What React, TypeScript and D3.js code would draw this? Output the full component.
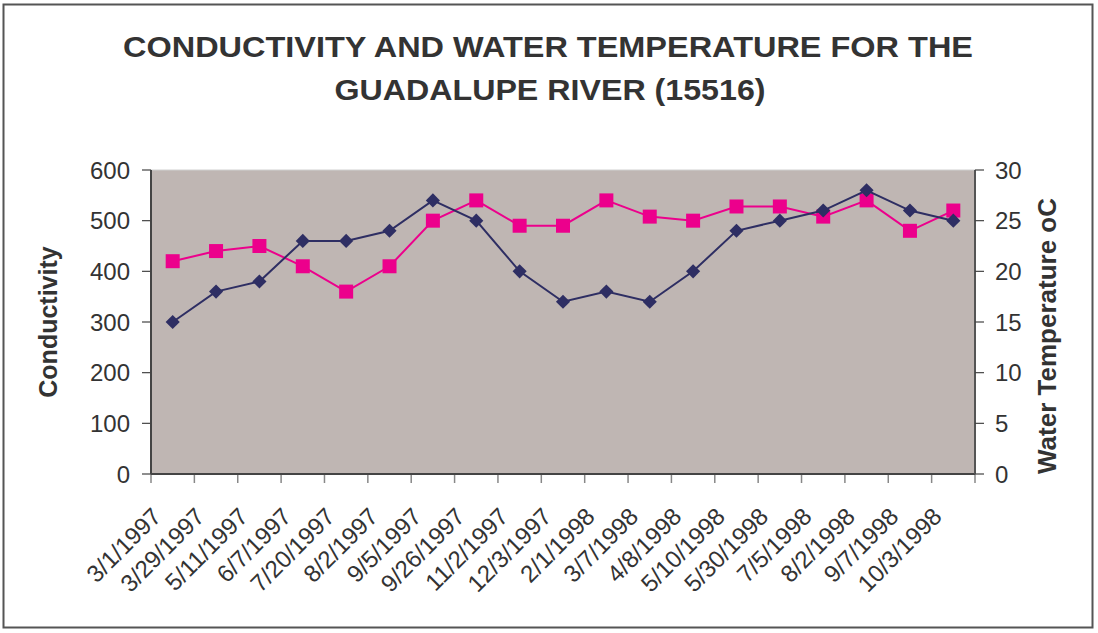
import { useEffect, useRef } from "react";
import * as d3 from "d3";

const dates = [
  "3/1/1997", "3/29/1997", "5/11/1997", "6/7/1997", "7/20/1997", "8/2/1997",
  "9/5/1997", "9/26/1997", "11/2/1997", "12/3/1997", "2/1/1998", "3/7/1998",
  "4/8/1998", "5/10/1998", "5/30/1998", "7/5/1998", "8/2/1998", "9/7/1998",
  "10/3/1998"
];
const conductivity = [300, 360, 380, 460, 460, 480, 540, 500, 400, 340, 360, 340, 400, 480, 500, 520, 560, 520, 500];
const waterTemp = [21, 22, 22.5, 20.5, 18, 20.5, 25, 27, 24.5, 24.5, 27, 25.4, 25, 26.4, 26.4, 25.4, 27, 24, 26];
const leftTicks = [0, 100, 200, 300, 400, 500, 600];
const rightTicks = [0, 5, 10, 15, 20, 25, 30];

export default function App() {
  const ref = useRef<SVGSVGElement>(null);

  useEffect(() => {
    const svg = d3.select(ref.current);
    svg.selectAll("*").remove();

    const width = 1098;
    const height = 633;
    const m = { top: 170, right: 123, bottom: 159, left: 151 };
    const font = "Liberation Sans, Arial, sans-serif";
    const textColor = "#333";

    // frame
    svg.append("rect")
      .attr("x", 3.5).attr("y", 4.5)
      .attr("width", 1089).attr("height", 623)
      .attr("fill", "white").attr("stroke", "#555").attr("stroke-width", 2);

    const x = d3.scaleBand()
      .domain(dates)
      .range([m.left, width - m.right]);
    const yL = d3.scaleLinear().domain([0, 600]).range([height - m.bottom, m.top]);
    const yR = d3.scaleLinear().domain([0, 30]).range([height - m.bottom, m.top]);

    const x0 = m.left, x1 = width - m.right;
    const y0 = height - m.bottom, y1 = m.top;

    svg.append("rect")
      .attr("x", x0).attr("y", y1)
      .attr("width", x1 - x0).attr("height", y0 - y1)
      .attr("fill", "#bfb6b3");
    svg.append("line")
      .attr("x1", x0).attr("x2", x1).attr("y1", y1).attr("y2", y1)
      .attr("stroke", "#d0d0d0").attr("stroke-width", 1);

    // x ticks
    const bounds = dates.map(d => x(d)!).concat([x1]);
    svg.append("g").selectAll("line")
      .data(bounds)
      .join("line")
      .attr("x1", d => d).attr("x2", d => d)
      .attr("y1", y0).attr("y2", y0 + 9)
      .attr("stroke", "#888").attr("stroke-width", 1.5);

    // axes lines
    svg.append("line")
      .attr("x1", x0).attr("x2", x1).attr("y1", y0).attr("y2", y0)
      .attr("stroke", "#444").attr("stroke-width", 2);
    svg.append("line")
      .attr("x1", x0).attr("x2", x0).attr("y1", y1).attr("y2", y0)
      .attr("stroke", "#444").attr("stroke-width", 2);
    svg.append("line")
      .attr("x1", x1).attr("x2", x1).attr("y1", y1).attr("y2", y0)
      .attr("stroke", "#555").attr("stroke-width", 2);

    // left ticks
    const gl = svg.append("g");
    gl.selectAll("line").data(leftTicks).join("line")
      .attr("x1", x0 - 9).attr("x2", x0)
      .attr("y1", d => yL(d)).attr("y2", d => yL(d))
      .attr("stroke", "#444").attr("stroke-width", 1.2);
    gl.selectAll("text").data(leftTicks).join("text")
      .attr("x", x0 - 21).attr("y", d => yL(d))
      .attr("dy", "0.36em")
      .attr("text-anchor", "end")
      .attr("font-family", font).attr("font-size", 24)
      .attr("fill", textColor)
      .text(d => d);

    // right ticks
    const gr = svg.append("g");
    gr.selectAll("line").data(rightTicks).join("line")
      .attr("x1", x1).attr("x2", x1 + 9)
      .attr("y1", d => yR(d)).attr("y2", d => yR(d))
      .attr("stroke", "#444").attr("stroke-width", 1.2);
    gr.selectAll("text").data(rightTicks).join("text")
      .attr("x", x1 + 20).attr("y", d => yR(d))
      .attr("dy", "0.36em")
      .attr("text-anchor", "start")
      .attr("font-family", font).attr("font-size", 24)
      .attr("fill", textColor)
      .text(d => d);

    // x labels
    svg.append("g").selectAll("text").data(dates).join("text")
      .attr("transform", d => `translate(${x(d)! + x.bandwidth() / 2 - 16},${y0 + 38}) rotate(-45)`)
      .attr("text-anchor", "end")
      .attr("dy", "0.35em")
      .attr("font-family", font).attr("font-size", 24)
      .attr("fill", textColor)
      .text(d => d);

    // axis titles
    svg.append("text")
      .attr("transform", `translate(57,322) rotate(-90)`)
      .attr("text-anchor", "middle")
      .attr("font-family", font).attr("font-size", 25).attr("font-weight", "bold")
      .attr("fill", textColor)
      .text("Conductivity");
    svg.append("text")
      .attr("transform", `translate(1056,336) rotate(-90)`)
      .attr("text-anchor", "middle")
      .attr("font-family", font).attr("font-size", 26).attr("font-weight", "bold")
      .attr("fill", textColor)
      .text("Water Temperature oC");

    // title
    const title = svg.append("text")
      .attr("text-anchor", "middle")
      .attr("font-family", font).attr("font-size", 29).attr("font-weight", "bold")
      .attr("fill", textColor);
    title.append("tspan").attr("x", 548).attr("y", 57)
      .attr("textLength", 850).attr("lengthAdjust", "spacingAndGlyphs")
      .text("CONDUCTIVITY AND WATER TEMPERATURE FOR THE");
    title.append("tspan").attr("x", 550).attr("y", 100)
      .attr("textLength", 431).attr("lengthAdjust", "spacingAndGlyphs")
      .text("GUADALUPE RIVER (15516)");

    const cx = (i: number) => x(dates[i])! + x.bandwidth() / 2;

    // temperature series
    const tempColor = "#ec008c";
    svg.append("path")
      .attr("d", d3.line<number>().x((_, i) => cx(i)).y(d => yR(d))(waterTemp))
      .attr("fill", "none").attr("stroke", tempColor).attr("stroke-width", 2);
    svg.append("g").selectAll("rect").data(waterTemp).join("rect")
      .attr("x", (_, i) => cx(i) - 7).attr("y", d => yR(d) - 7)
      .attr("width", 14).attr("height", 14)
      .attr("fill", tempColor);

    // conductivity series
    const condColor = "#2e2e63";
    svg.append("path")
      .attr("d", d3.line<number>().x((_, i) => cx(i)).y(d => yL(d))(conductivity))
      .attr("fill", "none").attr("stroke", condColor).attr("stroke-width", 2);
    svg.append("g").selectAll("path.m").data(conductivity).join("path")
      .attr("d", d3.symbol(d3.symbolSquare, 100)())
      .attr("transform", (d, i) => `translate(${cx(i)},${yL(d)}) rotate(45)`)
      .attr("fill", condColor);
  }, []);

  return <svg ref={ref} width={1098} height={633} style={{ position: "absolute", left: 0, top: 0 }}></svg>;
}
